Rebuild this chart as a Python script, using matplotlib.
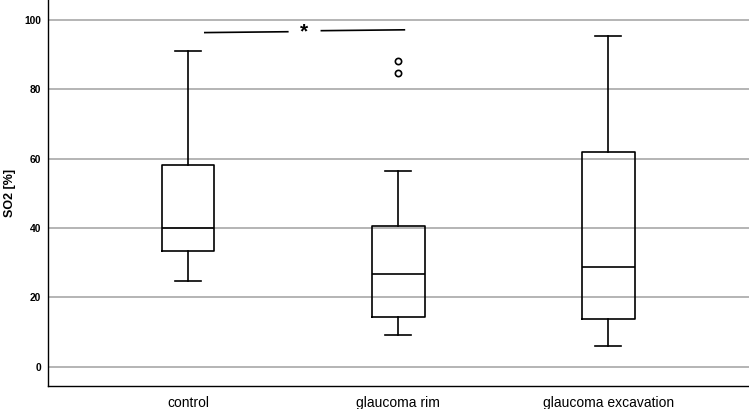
import matplotlib
matplotlib.use("Agg")
import matplotlib.pyplot as plt

plt.rcParams['font.family'] = ['Liberation Sans', 'DejaVu Sans']

groups = ['control', 'glaucoma rim', 'glaucoma excavation']
whisker_low = [24.8, 9.2, 6.0]
q1 = [33.4, 14.5, 13.8]
median = [39.9, 26.9, 28.7]
q3 = [58.3, 40.7, 62.0]
whisker_high = [91.2, 56.6, 95.5]
outliers = [[], [88.3, 84.8], []]

# significance bar between control and glaucoma rim
sig_x = [1.08, 2.03]
sig_y = [96.4, 97.2]
sig_label = '*'

stats = []
for i, g in enumerate(groups):
    stats.append(dict(label=g, whislo=whisker_low[i], q1=q1[i], med=median[i],
                      q3=q3[i], whishi=whisker_high[i], fliers=outliers[i]))

fig = plt.figure(figsize=(7.49, 4.09), dpi=100)
ax = fig.add_axes([0.064, 0.056, 0.936, 0.944])

for v in range(0, 101, 20):
    ax.axhline(v, color='#a8a8a8', lw=1.2, zorder=0)

ln = dict(color='black', lw=1.2)
ax.bxp(stats, positions=[1, 2, 3], widths=0.252, showfliers=True,
       boxprops=ln, whiskerprops=ln, capprops=ln,
       medianprops=dict(color='black', lw=1.2), capwidths=0.126,
       flierprops=dict(marker='o', markersize=4.5, markerfacecolor='white',
                       markeredgecolor='black', markeredgewidth=1.2))

# line broken around the asterisk
xm = (sig_x[0] + sig_x[1]) / 2
gap = 0.08
ym = (sig_y[0] + sig_y[1]) / 2
ax.plot([sig_x[0], xm - gap], [sig_y[0], ym - 0.15], color='black', lw=1.2)
ax.plot([xm + gap, sig_x[1]], [ym + 0.15, sig_y[1]], color='black', lw=1.2)
ax.text(xm - 0.005, ym - 0.3, sig_label, ha='center', va='center',
        fontsize=15, fontweight='bold')

ax.set_xlim(0.333, 3.671)
ax.set_ylim(-5.57, 105.8)
ax.set_yticks(range(0, 101, 20))
ax.set_xticks([1, 2, 3])
ax.set_xticklabels(groups, fontsize=10)
for t in ax.get_yticklabels():
    t.set_fontweight('bold')
    t.set_fontsize(7.4)
ax.tick_params(length=0)
ax.tick_params(axis='y', pad=5)
ax.tick_params(axis='x', pad=7)
ax.set_ylabel('SO2 [%]', fontsize=9, fontweight='bold')
ax.yaxis.set_label_coords(-0.045, 0.5)

for s in ['top', 'right']:
    ax.spines[s].set_visible(False)
for s in ['left', 'bottom']:
    ax.spines[s].set_linewidth(1.0)

fig.savefig('out.png', dpi=100)
